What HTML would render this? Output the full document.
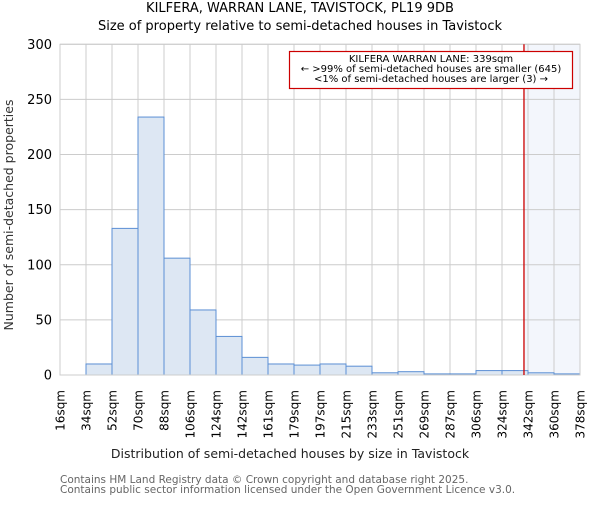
<!DOCTYPE html>
<html><head><meta charset="utf-8"><style>
body{margin:0;background:#fff;}
svg text{font-family:"DejaVu Sans","Liberation Sans",sans-serif;}
</style></head><body>
<svg id="chart" width="600" height="500" xmlns="http://www.w3.org/2000/svg">
<text x="300" y="12" font-size="13" text-anchor="middle">KILFERA, WARRAN LANE, TAVISTOCK, PL19 9DB</text>
<text x="300" y="30" font-size="13" text-anchor="middle">Size of property relative to semi-detached houses in Tavistock</text>
<g id="grid"></g>
<g id="bars"></g>
<g id="axes"></g>
<text transform="translate(13,215) rotate(-90)" font-size="12.5" text-anchor="middle" fill="#333">Number of semi-detached properties</text>
<text x="290" y="458" font-size="12.5" text-anchor="middle" fill="#222">Distribution of semi-detached houses by size in Tavistock</text>
<text x="60" y="483" font-size="10.5" fill="#666">Contains HM Land Registry data © Crown copyright and database right 2025.</text>
<text x="60" y="493" font-size="10.5" fill="#666">Contains public sector information licensed under the Open Government Licence v3.0.</text>
</svg>
<script>
const binLabels=["16sqm","34sqm","52sqm","70sqm","88sqm","106sqm","124sqm","142sqm","161sqm","179sqm","197sqm","215sqm","233sqm","251sqm","269sqm","287sqm","306sqm","324sqm","342sqm","360sqm","378sqm"];
const counts=[0,10,133,234,106,59,35,16,10,9,10,8,2,3,1,1,4,4,2,1];
const yTicks=[0,50,100,150,200,250,300];
const propertySize=339;
const binStart=16, binEnd=378;
const NS="http://www.w3.org/2000/svg";
const L=60,R=580,T=44.3,B=375;
const xs=i=>L+(R-L)*i/counts.length;
const xv=v=>L+(R-L)*(v-binStart)/(binEnd-binStart);
const ys=v=>B-(B-T)*v/300;
function mk(tag,attrs,parent){const e=document.createElementNS(NS,tag);for(const k in attrs)e.setAttribute(k,attrs[k]);parent.appendChild(e);return e;}
const grid=document.getElementById('grid'),bars=document.getElementById('bars'),axes=document.getElementById('axes');
// shaded region
const px=xv(propertySize);
let sh=mk('rect',{x:px,y:T,width:R-px,height:B-T,fill:'#f3f6fc'},grid);


yTicks.forEach(t=>{
 let g=mk('line',{x1:L,x2:R,y1:ys(t),y2:ys(t),stroke:'#ccc','stroke-width':1},grid);
 
 
 let tx=mk('text',{x:L-8,y:ys(t)+4.5,'font-size':13,'text-anchor':'end'},axes);
 tx.textContent=t;
 
 
});
binLabels.forEach((lab,i)=>{
 const x=xs(i);
 let g=mk('line',{x1:x,x2:x,y1:T,y2:B,stroke:'#ccc','stroke-width':1},grid);
 
 
 let tx=mk('text',{transform:`translate(${x+4.5},390) rotate(-90)`,'font-size':12,'text-anchor':'end'},axes);
 tx.textContent=lab;
 
 
});
counts.forEach((c,i)=>{
 if(c<=0)return;
 let r=mk('rect',{x:xs(i),y:ys(c),width:xs(i+1)-xs(i),height:B-ys(c),fill:'#dde7f3',stroke:'#5b8fd4','stroke-width':1},bars);
 
 
});
let fr=mk('rect',{x:L,y:T,width:R-L,height:B-T,fill:'none',stroke:'#ccc'},axes);


let ln=mk('line',{x1:px,x2:px,y1:T,y2:B,stroke:'#cc0000','stroke-width':1.3},axes);


let box=mk('rect',{x:289.5,y:51.5,width:283,height:37,fill:'#fff',stroke:'#cc0000','stroke-width':1.2},axes);


["KILFERA WARRAN LANE: "+propertySize+"sqm","← >99% of semi-detached houses are smaller (645)","<1% of semi-detached houses are larger (3) →"].forEach((s,i)=>{
 let t=mk('text',{x:431,y:62+i*10,'font-size':10,'text-anchor':'middle'},axes);
 t.textContent=s;
 
 
});
</script>
</body></html>
